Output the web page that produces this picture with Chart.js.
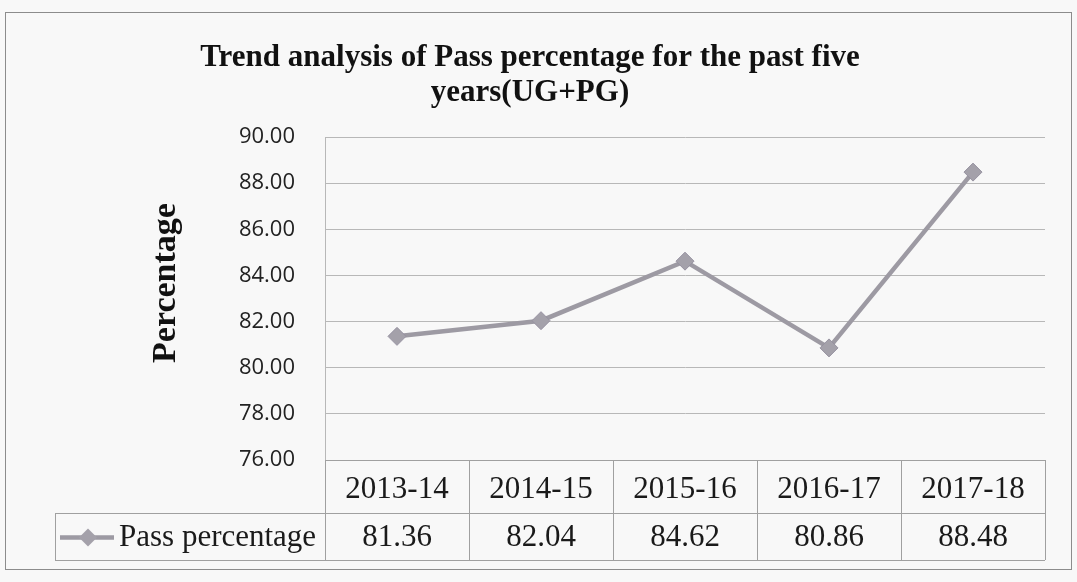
<!DOCTYPE html>
<html><head><meta charset="utf-8">
<script src="https://cdn.jsdelivr.net/npm/chart.js@4.4.1/dist/chart.umd.min.js"></script>
<style>
html,body{margin:0;padding:0;background:#f8f8f8;}
#wrap{width:1077px;height:582px;position:relative;}
canvas{display:block;}
</style></head><body>
<div id="wrap"><canvas id="c" width="1077" height="582"></canvas></div>
<script>
const categories = ['2013-14', '2014-15', '2015-16', '2016-17', '2017-18'];
const passPercentage = [81.36, 82.04, 84.62, 80.86, 88.48];
const seriesName = 'Pass percentage';
const titleLines = ['Trend analysis of Pass percentage for the past five', 'years(UG+PG)'];
const yAxisTitle = 'Percentage';
const yMin = 76, yMax = 90, yStep = 2;

const lineColor = '#9d9aa3';
const gridColor = '#b8b8b8';
const tableLine = '#a0a0a0';

const decorPlugin = {
  id: 'decor',
  beforeDraw(chart) {
    const ctx = chart.ctx;
    ctx.save();
    ctx.strokeStyle = '#8c8c8c';
    ctx.lineWidth = 1;
    ctx.strokeRect(5.5, 12.5, 1066, 557);
    ctx.restore();
  },
  afterDraw(chart) {
    const ctx = chart.ctx;
    const x = chart.scales.x;
    const area = chart.chartArea;
    const colW = x.getPixelForValue(1) - x.getPixelForValue(0);
    const firstEdge = x.getPixelForValue(0) - colW / 2;
    const top = area.bottom;
    const divider = top + 53;
    const bottom = divider + 47;
    const legendLeft = 55;
    const right = firstEdge + colW * categories.length;
    ctx.save();
    ctx.strokeStyle = tableLine;
    ctx.lineWidth = 1;
    for (let i = 0; i <= categories.length; i++) {
      const bx = Math.round(firstEdge + i * colW) + 0.5;
      ctx.beginPath(); ctx.moveTo(bx, top); ctx.lineTo(bx, bottom); ctx.stroke();
    }
    ctx.beginPath(); ctx.moveTo(legendLeft, divider + 0.5); ctx.lineTo(right, divider + 0.5); ctx.stroke();
    ctx.beginPath(); ctx.moveTo(legendLeft, bottom + 0.5); ctx.lineTo(right, bottom + 0.5); ctx.stroke();
    ctx.beginPath(); ctx.moveTo(legendLeft + 0.5, divider); ctx.lineTo(legendLeft + 0.5, bottom); ctx.stroke();
    ctx.beginPath(); ctx.moveTo(firstEdge, top + 0.5); ctx.lineTo(right, top + 0.5); ctx.stroke();

    ctx.fillStyle = '#1a1a1a';
    ctx.font = '31px "Liberation Serif"';
    ctx.textAlign = 'center';
    ctx.textBaseline = 'middle';
    categories.forEach((c, i) => {
      const cx = x.getPixelForValue(i);
      ctx.fillText(c, cx, (top + divider) / 2 + 3);
      ctx.fillText(passPercentage[i].toFixed(2), cx, (divider + bottom) / 2 + 1);
    });
    const ly = (divider + bottom) / 2 + 1;
    ctx.strokeStyle = lineColor;
    ctx.lineWidth = 4.5;
    ctx.beginPath(); ctx.moveTo(60, ly); ctx.lineTo(114, ly); ctx.stroke();
    ctx.fillStyle = '#a4a1aa';
    ctx.beginPath();
    ctx.moveTo(88, ly - 9); ctx.lineTo(97, ly); ctx.lineTo(88, ly + 9); ctx.lineTo(79, ly); ctx.closePath();
    ctx.fill();
    ctx.fillStyle = '#1a1a1a';
    ctx.textAlign = 'left';
    ctx.fillText(seriesName, 119, ly);

    ctx.save();
    ctx.translate(166, 283);
    ctx.rotate(-Math.PI / 2);
    ctx.font = 'bold 34px "Liberation Serif"';
    ctx.textAlign = 'center';
    ctx.textBaseline = 'middle';
    ctx.fillStyle = '#111';
    ctx.fillText(yAxisTitle, 0, 0);
    ctx.restore();
    ctx.restore();
  }
};

new Chart(document.getElementById('c'), {
  type: 'line',
  data: {
    labels: categories,
    datasets: [{
      label: seriesName,
      data: passPercentage,
      borderColor: lineColor,
      borderWidth: 4.5,
      pointStyle: 'rectRot',
      pointRadius: 9,
      pointHoverRadius: 9,
      pointBackgroundColor: '#a4a1aa',
      pointBorderColor: '#9691a0',
      pointBorderWidth: 1,
      tension: 0
    }]
  },
  options: {
    responsive: false,
    devicePixelRatio: 1,
    animation: false,
    events: [],
    layout: { padding: { left: 15, right: 32, top: 0, bottom: 122 } },
    plugins: {
      legend: { display: false },
      tooltip: { enabled: false },
      title: {
        display: true,
        text: titleLines,
        color: '#111',
        font: { family: 'Liberation Serif', weight: 'bold', size: 31, lineHeight: 1.13 },
        padding: { top: 40, bottom: 27 }
      }
    },
    scales: {
      x: {
        type: 'category',
        display: false,
        offset: true
      },
      y: {
        min: yMin,
        max: yMax,
        afterFit(scale) { scale.width = 310; },
        ticks: {
          stepSize: yStep,
          padding: 30,
          color: '#222',
          font: { family: 'Open Sans', size: 22 },
          callback: v => Number(v).toFixed(2)
        },
        grid: { color: gridColor, lineWidth: 1, drawTicks: false },
        border: { display: true, color: gridColor, width: 1 }
      }
    }
  },
  plugins: [decorPlugin]
});
</script>
</body></html>
